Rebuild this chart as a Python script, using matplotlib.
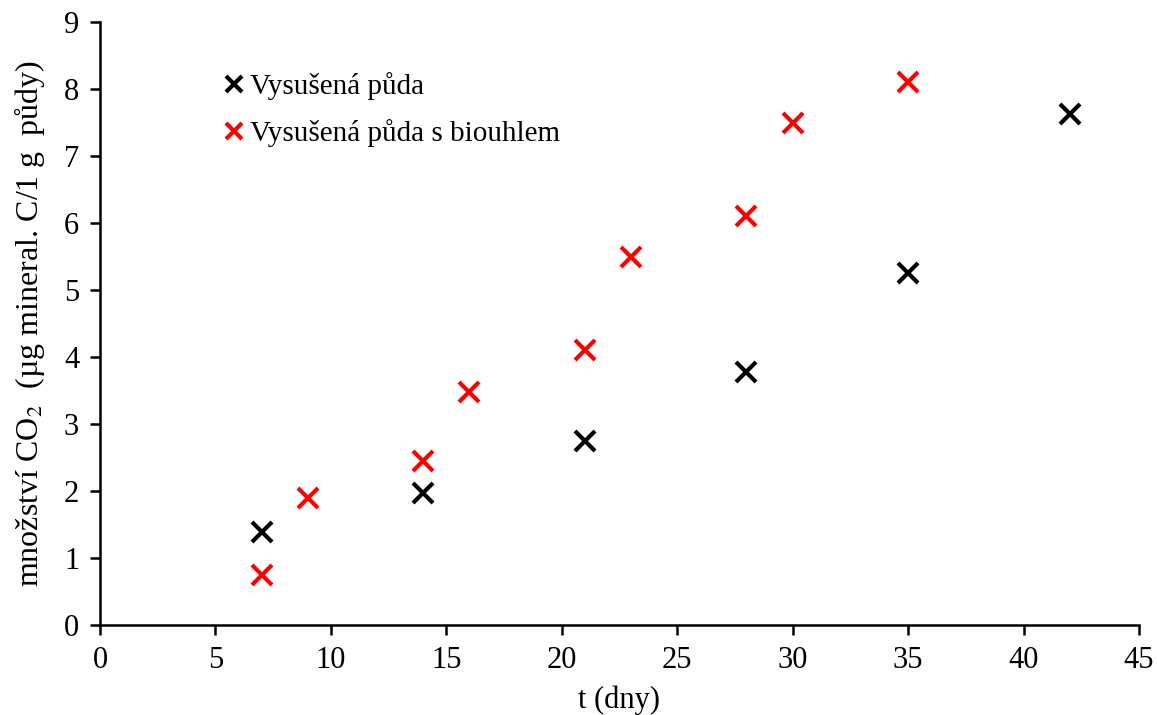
import numpy as np
import matplotlib.pyplot as plt

plt.rcParams['font.family'] = ['Liberation Serif', 'DejaVu Serif']
plt.rcParams['mathtext.fontset'] = 'stix'

# Vysušená půda
t_dry = [7, 14, 21, 28, 35, 42]
co2_dry = [1.38, 1.97, 2.74, 3.77, 5.25, 7.63]

# Vysušená půda s biouhlem
t_bio = [7, 9, 14, 16, 21, 23, 28, 30, 35]
co2_bio = [0.75, 1.89, 2.45, 3.48, 4.10, 5.49, 6.10, 7.49, 8.10]

fig = plt.figure(figsize=(11.57, 7.15), dpi=100)
ax = fig.add_axes([0.0864, 0.126, 0.898, 0.843])

ax.plot(t_dry, co2_dry, 'x', color='black', markersize=14, markeredgewidth=3,
        label='Vysušená půda')
ax.plot(t_bio, co2_bio, 'x', color='#ff0000', markersize=14, markeredgewidth=3,
        label='Vysušená půda s biouhlem')

ax.set_xlim(0, 45)
ax.set_ylim(0, 9)
ax.set_xticks(np.arange(0, 50, 5))
ax.set_yticks(np.arange(0, 10, 1))
ax.spines['top'].set_visible(False)
ax.spines['right'].set_visible(False)
for s in ['left', 'bottom']:
    ax.spines[s].set_linewidth(1.8)
ax.tick_params(direction='out', length=7, width=1.8, labelsize=22, pad=8)

ax.set_xlabel('t (dny)', fontsize=22, labelpad=8)
ax.set_ylabel('množství CO$_2$  (µg mineral. C/1 g  půdy)', fontsize=23, labelpad=12)

ax.legend(loc='upper left', bbox_to_anchor=(0.097, 0.96), frameon=False, fontsize=21,
          handlelength=0.5, handletextpad=0.3, labelspacing=0.65, markerscale=0.85)

fig.savefig('out.png', dpi=100)
